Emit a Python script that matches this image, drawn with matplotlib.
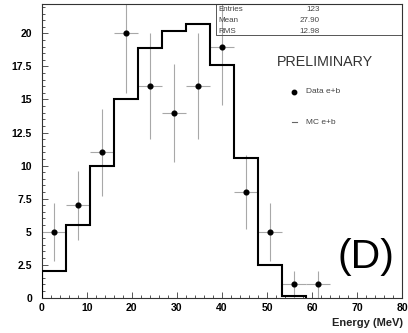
import numpy as np
import matplotlib
matplotlib.use("Agg")
import matplotlib.pyplot as plt
from matplotlib.ticker import MultipleLocator

plt.rcParams["font.family"] = ["Liberation Sans", "DejaVu Sans"]

# --- histograma MC (15 bins de 0 a 80 MeV) ---
mc_edges = [0, 5.33, 10.67, 16, 21.33, 26.67, 32, 37.33, 42.67, 48, 53.33, 58.67]
mc_values = [2.0, 5.5, 10.0, 15.0, 18.9, 20.2, 20.7, 17.6, 10.6, 2.5, 0.1]

# --- pontos de dados ---
data_x = [2.67, 8.0, 13.33, 18.67, 24.0, 29.33, 34.67, 40.0, 45.33, 50.67, 56.0, 61.33]
data_y = [5, 7, 11, 20, 16, 14, 16, 19, 8, 5, 1, 1]
data_yerr = [2.2, 2.6, 3.3, 4.5, 4.0, 3.7, 4.0, 4.4, 2.8, 2.2, 1.0, 1.0]
data_xerr = [2.67] * 12

stat_names = ["Entries", "Mean", "RMS"]
stat_values = ["123", "27.90", "12.98"]

fig = plt.figure(figsize=(4.08, 3.33), dpi=100)
ax = fig.add_axes([0.102, 0.106, 0.884, 0.881])

ax.stairs(mc_values, mc_edges, baseline=0, color="black", linewidth=1.5, zorder=3)
ax.errorbar(data_x, data_y, yerr=data_yerr, xerr=data_xerr, fmt="none",
            ecolor="#a8a8a8", elinewidth=0.8, capsize=0, zorder=2)
ax.plot(data_x, data_y, "o", color="black", markersize=3.4, zorder=4)

ax.set_xlim(0, 80)
ax.set_ylim(0, 22.2)
ax.xaxis.set_major_locator(MultipleLocator(10))
ax.xaxis.set_minor_locator(MultipleLocator(2))
ax.yaxis.set_minor_locator(MultipleLocator(0.5))
ax.set_yticks([0, 2.5, 5, 7.5, 10, 12.5, 15, 17.5, 20])
ax.set_yticklabels(["0", "2.5", "5", "7.5", "10", "12.5", "15", "17.5", "20"])

ax.tick_params(which="both", direction="in", top=False, right=False,
               color="#555555", width=0.7)
ax.tick_params(which="major", length=4.3, labelsize=7.5)
ax.tick_params(which="minor", length=2.2)
ax.tick_params(axis="y", pad=7)
ax.tick_params(axis="x", pad=4)
for lbl in ax.get_xticklabels() + ax.get_yticklabels():
    lbl.set_fontweight("bold")
for sp in ax.spines.values():
    sp.set_color("#333333")
    sp.set_linewidth(0.8)

# --- caixa de estatísticas ---
ax.plot([0.484, 0.484, 1.0], [1.0, 0.895, 0.895], transform=ax.transAxes,
        color="#555555", linewidth=0.7, clip_on=False)
for i, (nome, valor) in enumerate(zip(stat_names, stat_values)):
    yy = 0.984 - i * 0.038
    ax.text(0.491, yy, nome, transform=ax.transAxes, fontsize=5.8,
            color="#444444", va="center", ha="left")
    ax.text(0.771, yy, valor, transform=ax.transAxes, fontsize=5.8,
            color="#444444", va="center", ha="right")

ax.text(0.785, 0.804, "PRELIMINARY", transform=ax.transAxes, fontsize=10.3,
        color="#333333", ha="center", va="center")

# --- legenda ---
ax.plot([0.701], [0.702], "o", color="black", markersize=3.2,
        transform=ax.transAxes, clip_on=False)
ax.text(0.732, 0.702, "Data e+b", transform=ax.transAxes, fontsize=6,
        color="#444444", va="center")
ax.plot([0.695, 0.707], [0.598, 0.598], color="#666666", linewidth=0.8,
        transform=ax.transAxes)
ax.text(0.734, 0.598, "MC e+b", transform=ax.transAxes, fontsize=6,
        color="#444444", va="center")

ax.text(0.898, 0.14, "(D)", transform=ax.transAxes, fontsize=29.5,
        color="black", ha="center", va="center")

fig.text(403 / 408, 1 - 323 / 333, "Energy (MeV)", ha="right", va="center",
         fontsize=8, fontweight="bold", color="#222222")

plt.savefig("out.png", dpi=100)
